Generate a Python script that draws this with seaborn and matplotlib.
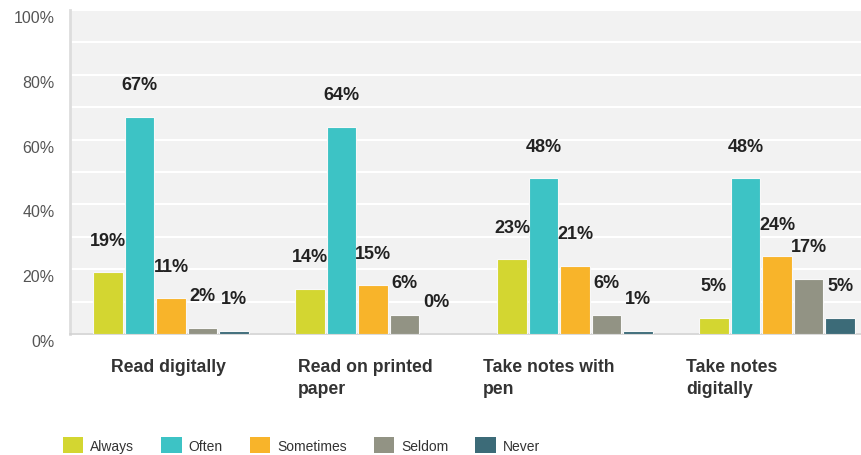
import matplotlib
matplotlib.use("Agg")
import matplotlib.pyplot as plt
import matplotlib.transforms as mtransforms
from matplotlib.patches import Patch
import seaborn as sns
import pandas as pd

categories = ["Read digitally", "Read on printed\npaper", "Take notes with\npen", "Take notes\ndigitally"]
frequencies = ["Always", "Often", "Sometimes", "Seldom", "Never"]
always = [19, 14, 23, 5]
often = [67, 64, 48, 48]
sometimes = [11, 15, 21, 24]
seldom = [2, 6, 6, 17]
never = [1, 0, 1, 5]
yticks = [0, 20, 40, 60, 80, 100]

colors = ["#d3d631", "#3dc3c5", "#f8b42a", "#929384", "#3c6b78"]
label_shift = [-0.297, -0.371, -0.455, -0.45]

series = {"Always": always, "Often": often, "Sometimes": sometimes,
          "Seldom": seldom, "Never": never}
rows = []
for f in frequencies:
    for c, v in zip(categories, series[f]):
        rows.append({"category": c, "frequency": f, "value": v})
df = pd.DataFrame(rows)

sns.set_theme(style="white")
plt.rcParams["font.family"] = ["Liberation Sans", "DejaVu Sans"]

W, H = 862, 456
fig = plt.figure(figsize=(W / 100, H / 100), dpi=100)
ax = fig.add_axes([70 / W, (H - 335) / H, (861 - 70) / W, 324 / H])
ax.set_facecolor("#f2f2f2")

sns.barplot(data=df, x="category", y="value", hue="frequency",
            hue_order=frequencies, order=categories, palette=colors,
            saturation=1, width=0.78, gap=0.07, edgecolor="#f8f8f8",
            linewidth=0.8, legend=False, ax=ax, zorder=3)

ax.set_ylim(0, 100)
ax.set_xlim(-0.5, -0.5 + 791 / 202)
ax.set_axisbelow(True)
ax.set_yticks(yticks)
ax.set_yticks(range(10, 100, 20), minor=True)
ax.yaxis.grid(True, which="both", color="white", linewidth=1.5)
ax.set_yticklabels([f"{t}%" for t in yticks], color="#555555", fontsize=11.5)
ax.tick_params(axis="y", which="both", length=0, pad=11)
ax.tick_params(axis="x", length=0)
ax.set_xticklabels([])
ax.set_xlabel("")
ax.set_ylabel("")
shift = mtransforms.ScaledTranslation(0, -6 / 100, fig.dpi_scale_trans)
for lab in ax.get_yticklabels():
    lab.set_transform(lab.get_transform() + shift)

for s in ["top", "right"]:
    ax.spines[s].set_visible(False)
ax.spines["left"].set_color("#dddddd")
ax.spines["left"].set_linewidth(2)
ax.spines["bottom"].set_color("#d2d2d2")
ax.spines["bottom"].set_linewidth(1.2)

for cont in ax.containers:
    for bar in cont:
        h = bar.get_height()
        ax.annotate(f"{h:.0f}%", (bar.get_x() + bar.get_width() / 2, h),
                    xytext=(0, 32), textcoords="offset pixels",
                    ha="center", va="center", fontsize=13,
                    fontweight="bold", color="#222222", zorder=5)

for i, c in enumerate(categories):
    ax.text(i + label_shift[i], -0.075, c, transform=ax.get_xaxis_transform(),
            ha="left", va="top", fontsize=12.7, fontweight="bold",
            color="#333333", linespacing=1.38)

handles = [Patch(facecolor=col, edgecolor="none", label=f)
           for f, col in zip(frequencies, colors)]
leg = fig.legend(handles=handles, loc="center left", ncol=5,
                 bbox_to_anchor=(63 / W, 10 / H), frameon=False,
                 borderpad=0, borderaxespad=0,
                 fontsize=10, handlelength=1.47, handleheight=1.47,
                 handletextpad=0.5, columnspacing=1.94, labelcolor="#333333")

fig.savefig("out.png", dpi=100, facecolor="white")
